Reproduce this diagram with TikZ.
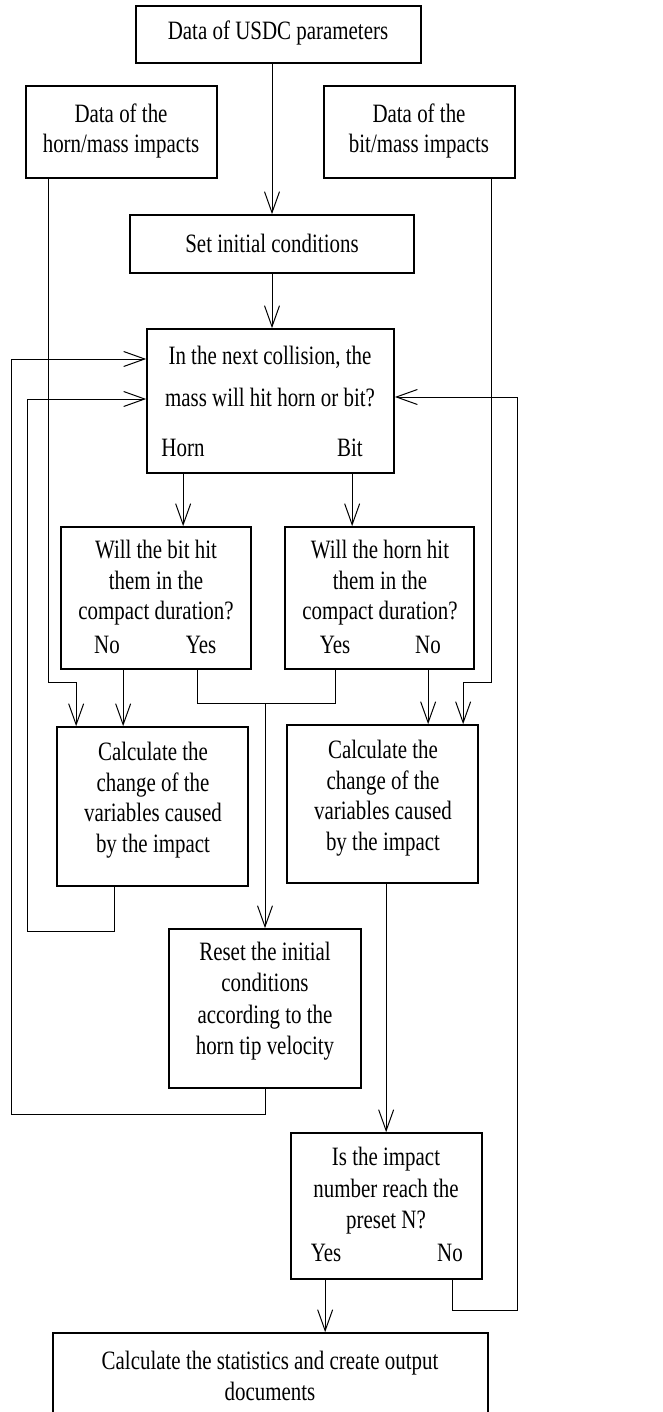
\documentclass[tikz,border=0pt]{standalone}
\usepackage{fontspec}
\setmainfont{Liberation Serif}[FakeStretch=0.79]
\usetikzlibrary{arrows.meta}
\begin{document}
\begin{tikzpicture}[x=1pt,y=-1pt,
  box/.style={draw, line width=1.7pt, inner sep=0pt},
  txt/.style={inner sep=0pt, align=center, font=\fontsize{26.5}{30.5}\selectfont},
  txtb/.style={inner sep=0pt, align=center, font=\fontsize{26.5}{31.5}\selectfont},
  line/.style={line width=1pt},
  conn/.style={line width=1pt, -{Straight Barb[length=21pt,width=15pt]}}]
\useasboundingbox (0,0) rectangle (663,1412);
\clip (0,0) rectangle (663,1412);
% boxes
\node[box, minimum width=285pt, minimum height=57pt] (usdc) at (278.5,34.5) {};
\node[box, minimum width=191pt, minimum height=92pt] (hm) at (121.5,132) {};
\node[box, minimum width=191pt, minimum height=92pt] (bm) at (419.5,132) {};
\node[box, minimum width=284pt, minimum height=58pt] (set) at (272,244) {};
\node[box, minimum width=247pt, minimum height=144pt] (dec) at (270.5,401) {};
\node[box, minimum width=190pt, minimum height=142pt] (q1) at (156,598) {};
\node[box, minimum width=189pt, minimum height=142pt] (q2) at (379.5,598) {};
\node[box, minimum width=191pt, minimum height=159pt] (c1) at (152.5,806.5) {};
\node[box, minimum width=191pt, minimum height=158pt] (c2) at (382.5,804) {};
\node[box, minimum width=192pt, minimum height=159pt] (rs) at (265,1008.5) {};
\node[box, minimum width=191pt, minimum height=146pt] (im) at (386.5,1206) {};
\node[box, minimum width=435pt, minimum height=107pt] (fin) at (270.5,1386.5) {};
% texts
\node[txt] (usdcT) at (278,33) {Data of USDC parameters};
\node[txt] (hmT) at (121,131) {Data of the\\horn/mass impacts};
\node[txt] (bmT) at (419,131) {Data of the\\bit/mass impacts};
\node[txt] (setT) at (272,243) {Set initial conditions};
\node[txt] (decT1) at (270,357) {In the next collision, the};
\node[txt] (decT2) at (270,397) {mass will hit horn or bit?};
\node[txt] (horn) at (183,448) {Horn};
\node[txt] (bit) at (350,448) {Bit};
\node[txt] (q1T) at (156,583) {Will the bit hit\\them in the\\compact duration?};
\node[txt] (q1No) at (107,645) {No};
\node[txt] (q1Yes) at (201,645) {Yes};
\node[txt] (q2T) at (380,583) {Will the horn hit\\them in the\\compact duration?};
\node[txt] (q2Yes) at (335,645) {Yes};
\node[txt] (q2No) at (428,645) {No};
\node[txt] (c1T) at (153,800) {Calculate the\\change of the\\variables caused\\by the impact};
\node[txt] (c2T) at (383,798) {Calculate the\\change of the\\variables caused\\by the impact};
\node[txtb] (rsT) at (265,1001) {Reset the initial\\conditions\\according to the\\horn tip velocity};
\node[txtb] (imT) at (386,1191) {Is the impact\\number reach the\\preset N?};
\node[txt] (imYes) at (326,1253) {Yes};
\node[txt] (imNo) at (450,1253) {No};
\node[txtb] (finT) at (270,1376) {Calculate the statistics and create output\\documents};
% waypoints
\coordinate (L1) at (11,359);
\coordinate (L1b) at (11,1114);
\coordinate (L2) at (27,399);
\coordinate (L2b) at (27,931);
\coordinate (R1) at (517,397);
\coordinate (R1b) at (517,1310);
% connectors
\draw[conn] (usdc.south -| set.north) -- (set.north);
\draw[conn] (set.south) -- (set.south |- dec.north);
\draw[conn] ([xshift=37pt]dec.south west) coordinate (a1) -- (a1 |- q1.north);
\draw[conn] ([xshift=206pt]dec.south west) coordinate (a2) -- (a2 |- q2.north);
\draw[conn] ([xshift=23pt]hm.south west) -- ++(0pt,-504pt) -| ([xshift=20pt]c1.north west);
\draw[conn] ([xshift=168pt]bm.south west) -- ++(0pt,-504pt) -| ([xshift=177pt]c2.north west);
\draw[conn] ([xshift=63pt]q1.south west) coordinate (a3) -- (a3 |- c1.north);
\draw[conn] ([xshift=144pt]q2.south west) coordinate (a4) -- (a4 |- c2.north);
\draw[line] ([xshift=137pt]q1.south west) -- ++(0pt,-34pt) coordinate (m1) -| ([xshift=51pt]q2.south west);
\draw[conn] (m1 -| rs.north) -- (rs.north);
\draw[conn] ([xshift=58pt]c1.south west) |- (L2b) -- (L2) -- (L2 -| dec.west);
\draw[conn] (rs.south) |- (L1b) -- (L1) -- (L1 -| dec.west);
\draw[conn] ([xshift=100pt]c2.south west) coordinate (a5) -- (a5 |- im.north);
\draw[conn] ([xshift=35pt]im.south west) coordinate (a6) -- (a6 |- fin.north);
\draw[conn] ([xshift=162pt]im.south west) |- (R1b) -- (R1) -- (R1 -| dec.east);
\end{tikzpicture}
\end{document}
